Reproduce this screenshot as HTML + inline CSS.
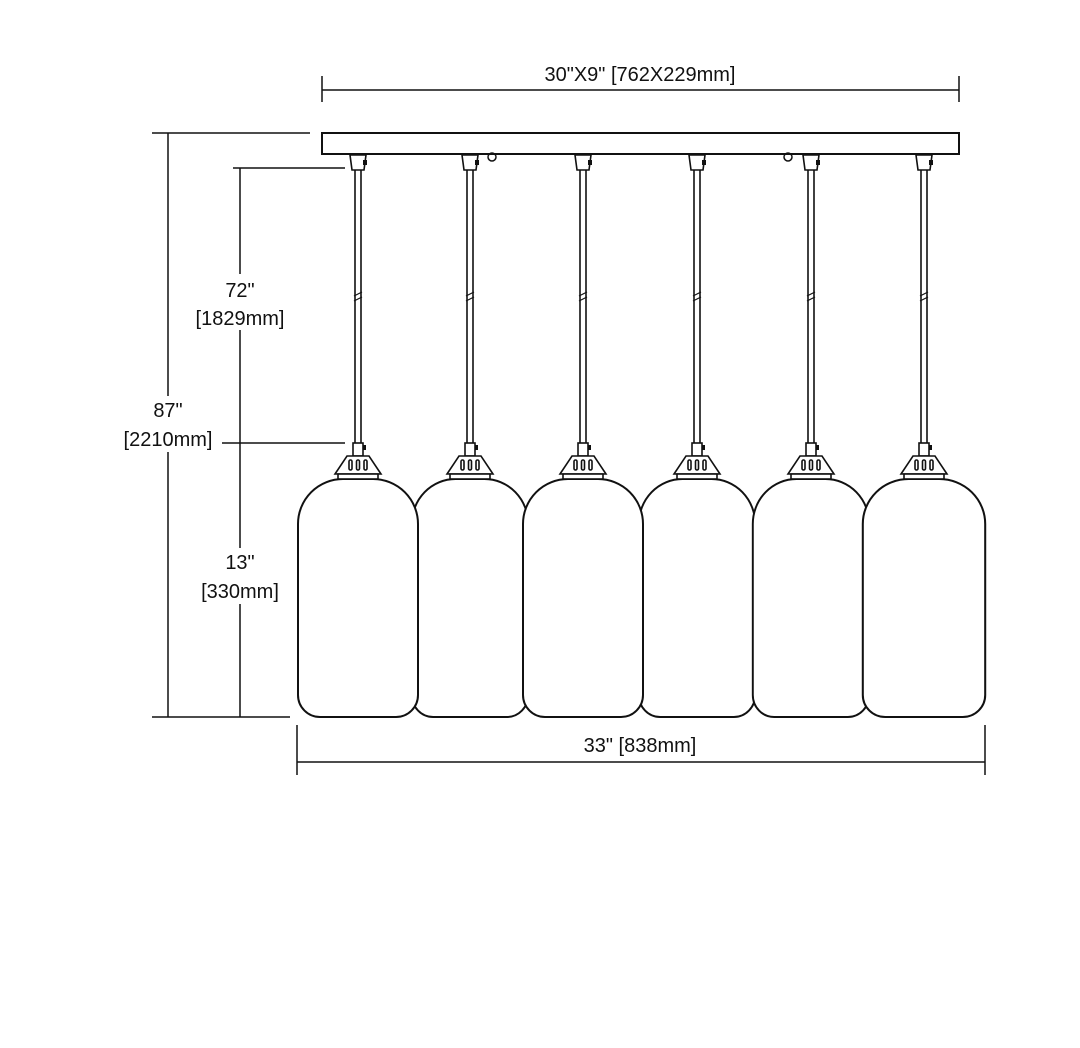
<!DOCTYPE html>
<html><head><style>
html,body{margin:0;padding:0;background:#fff;}
svg{display:block;}
text{font-family:"Liberation Sans",sans-serif;font-size:20px;fill:#111;text-anchor:middle;}
</style></head><body>
<svg width="1080" height="1048" viewBox="0 0 1080 1048" xmlns="http://www.w3.org/2000/svg">
<defs>
<g id="shade">
<path d="M-60,524 A45,45 0 0 1 -15,479 L15,479 A45,45 0 0 1 60,524 L60,695 A22,22 0 0 1 38,717 L-38,717 A22,22 0 0 1 -60,695 Z" fill="#fff" stroke="#111" stroke-width="2"/>
</g>
<g id="pend" fill="#fff" stroke="#111" stroke-width="1.6">
<path d="M-8,155 L8,155 L6,170 L-6,170 Z"/>
<rect x="5" y="160" width="4" height="5" fill="#111" stroke="none"/>
<line x1="-3" y1="170" x2="-3" y2="443"/>
<line x1="3" y1="170" x2="3" y2="443"/>
<line x1="-4" y1="296" x2="4" y2="292" stroke-width="1.2"/>
<line x1="-4" y1="301" x2="4" y2="297" stroke-width="1.2"/>
<rect x="-5" y="443" width="10" height="13"/>
<rect x="5" y="445" width="3" height="5" fill="#111" stroke="none"/>
<path d="M-11,456 L11,456 L23,474 L-23,474 Z"/>
<rect x="-20" y="474" width="40" height="5"/>
<rect x="-9" y="460" width="3" height="10" rx="1.5"/>
<rect x="-1.5" y="460" width="3" height="10" rx="1.5"/>
<rect x="6" y="460" width="3" height="10" rx="1.5"/>
</g>
</defs>
<g stroke="#111" stroke-width="1.5" fill="none">
<line x1="322" y1="76" x2="322" y2="102"/><line x1="959" y1="76" x2="959" y2="102"/>
<line x1="322" y1="90" x2="959" y2="90"/>
<rect x="322" y="133" width="637" height="21" stroke-width="2" fill="#fff"/>
<circle cx="492" cy="157" r="4"/><circle cx="788" cy="157" r="4"/>
<line x1="168" y1="133" x2="168" y2="717"/>
<line x1="152" y1="133" x2="310" y2="133"/>
<line x1="152" y1="717" x2="290" y2="717"/>
<line x1="240" y1="168" x2="240" y2="717"/>
<line x1="233" y1="168" x2="345" y2="168"/>
<line x1="220" y1="443" x2="345" y2="443"/>
<line x1="297" y1="725" x2="297" y2="775"/><line x1="985" y1="725" x2="985" y2="775"/>
<line x1="297" y1="762" x2="985" y2="762"/>
</g>
<use href="#shade" transform="translate(470,0) scale(0.97,1)"/>
<use href="#shade" transform="translate(697,0) scale(0.97,1)"/>
<use href="#shade" transform="translate(811,0) scale(0.97,1)"/>
<use href="#shade" transform="translate(358,0)"/>
<use href="#shade" transform="translate(583,0)"/>
<use href="#shade" transform="translate(924,0) scale(1.02,1)"/>
<use href="#pend" transform="translate(358,0)"/>
<use href="#pend" transform="translate(470,0)"/>
<use href="#pend" transform="translate(583,0)"/>
<use href="#pend" transform="translate(697,0)"/>
<use href="#pend" transform="translate(811,0)"/>
<use href="#pend" transform="translate(924,0)"/>
<rect x="200" y="274" width="80" height="56" fill="#fff"/>
<rect x="114" y="396" width="108" height="56" fill="#fff"/>
<rect x="190" y="548" width="100" height="56" fill="#fff"/>
<text x="640" y="81">30"X9" [762X229mm]</text>
<text x="240" y="297">72"</text>
<text x="240" y="325">[1829mm]</text>
<text x="168" y="417">87"</text>
<text x="168" y="446">[2210mm]</text>
<text x="240" y="569">13"</text>
<text x="240" y="598">[330mm]</text>
<text x="640" y="752">33" [838mm]</text>
</svg>
</body></html>
